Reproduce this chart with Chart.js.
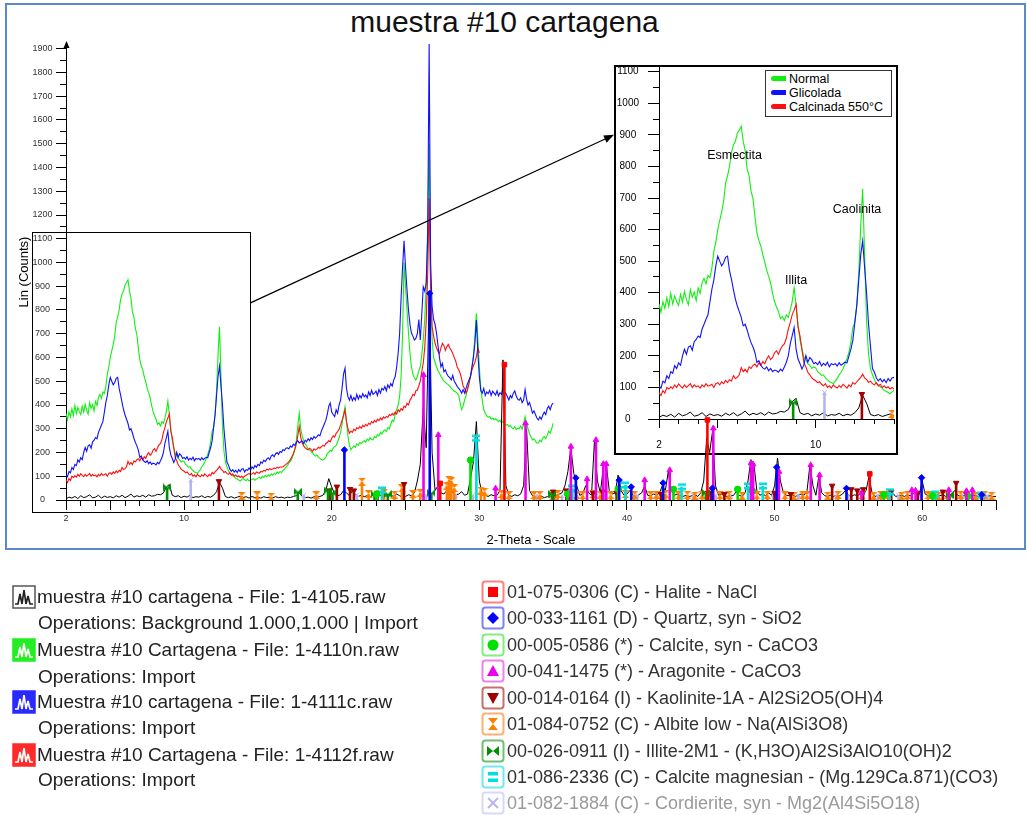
<!DOCTYPE html>
<html>
<head>
<meta charset="utf-8">
<title>muestra #10 cartagena</title>
<script src="https://cdn.jsdelivr.net/npm/chart.js@4.4.1/dist/chart.umd.min.js"></script>
<style>
html,body{margin:0;padding:0;background:#fff;}
body{position:relative;width:1027px;height:815px;overflow:hidden;font-family:"Liberation Sans",Arial,sans-serif;}
#frame{position:absolute;left:5px;top:3px;width:1017px;height:543px;border:2px solid #5b89c9;}
#title{position:absolute;left:0;top:4px;width:1009px;text-align:center;font-size:30px;line-height:36px;color:#111;}
#main{position:absolute;left:0;top:0;z-index:2;pointer-events:none;}
#insetBox{position:absolute;left:614px;top:65px;width:280px;height:386px;border:2px solid #000;background:#fff;z-index:1;}
#inset{display:block;}
#insetLegend{position:absolute;left:765px;top:70px;width:125px;height:45px;border:1px solid #333;background:#fff;z-index:3;font-size:12.5px;color:#000;}
#insetLegend .it{position:absolute;left:5px;height:14px;line-height:14px;white-space:nowrap;}
#insetLegend .sw{display:inline-block;width:15px;height:5px;border-radius:2.5px 0 0 2.5px;vertical-align:middle;margin-right:3px;position:relative;top:-1px;}
#legend{position:absolute;left:0;top:0;width:1027px;height:815px;filter:blur(0.6px);}
.row{position:absolute;height:26px;line-height:26px;white-space:nowrap;display:flex;align-items:center;}
.row svg{flex:none;}
.l{left:12px;font-size:19px;color:#222;}
.l span{margin-left:1px;}
.op{left:38px;font-size:19px;color:#222;}
.r{left:481px;font-size:18px;color:#333;}
.r span{margin-left:2px;}
.faint{color:#9a9a9a;}
</style>
</head>
<body>
<div id="frame"></div>
<div id="title">muestra #10 cartagena</div>
<div id="insetBox"><canvas id="inset" width="280" height="386"></canvas></div>
<div id="insetLegend">
  <div class="it" style="top:1px"><span class="sw" style="background:#10f010"></span>Normal</div>
  <div class="it" style="top:15px"><span class="sw" style="background:#1010ff"></span>Glicolada</div>
  <div class="it" style="top:29px"><span class="sw" style="background:#ff1010"></span>Calcinada 550°C</div>
</div>
<canvas id="main" width="1027" height="560"></canvas>

<div id="legend">
  <div class="row l" style="top:584px"><svg width="24" height="24" viewBox="0 0 24 24"><rect x="1" y="1" width="22" height="22" fill="#fff" stroke="#555" stroke-width="1.5"/><path d="M3 19 L6 19 L8 9 L10 19 L12 5 L14 19 L16 11 L18 19 L21 19" fill="none" stroke="#222" stroke-width="1.7"/></svg><span>muestra #10 cartagena - File: 1-4105.raw</span></div>
  <div class="row op" style="top:610px">Operations: Background 1.000,1.000 | Import</div>
  <div class="row l" style="top:637px"><svg width="24" height="24" viewBox="0 0 24 24"><rect x="1" y="1" width="22" height="22" fill="#22ee22" stroke="#22ee22" stroke-width="1.5"/><path d="M3 19 L6 19 L8 9 L10 19 L12 5 L14 19 L16 11 L18 19 L21 19" fill="none" stroke="#fff" stroke-width="1.7"/></svg><span>Muestra #10 Cartagena - File: 1-4110n.raw</span></div>
  <div class="row op" style="top:664px">Operations: Import</div>
  <div class="row l" style="top:689px"><svg width="24" height="24" viewBox="0 0 24 24"><rect x="1" y="1" width="22" height="22" fill="#2a2aff" stroke="#2a2aff" stroke-width="1.5"/><path d="M3 19 L6 19 L8 9 L10 19 L12 5 L14 19 L16 11 L18 19 L21 19" fill="none" stroke="#fff" stroke-width="1.7"/></svg><span>Muestra #10 cartagena - File: 1-4111c.raw</span></div>
  <div class="row op" style="top:715px">Operations: Import</div>
  <div class="row l" style="top:742px"><svg width="24" height="24" viewBox="0 0 24 24"><rect x="1" y="1" width="22" height="22" fill="#ff2a2a" stroke="#ff2a2a" stroke-width="1.5"/><path d="M3 19 L6 19 L8 9 L10 19 L12 5 L14 19 L16 11 L18 19 L21 19" fill="none" stroke="#fff" stroke-width="1.7"/></svg><span>Muestra #10 Cartagena - File: 1-4112f.raw</span></div>
  <div class="row op" style="top:767px">Operations: Import</div>

  <div class="row r" style="top:579px"><svg width="24" height="24" viewBox="0 0 24 24"><rect x="1.5" y="1.5" width="21" height="21" rx="3" fill="#fff" stroke="#ff8080" stroke-width="2"/><rect x="7" y="7" width="10" height="10" fill="#ff0000"/></svg><span>01-075-0306 (C) - Halite - NaCl</span></div>
  <div class="row r" style="top:605px"><svg width="24" height="24" viewBox="0 0 24 24"><rect x="1.5" y="1.5" width="21" height="21" rx="3" fill="#fff" stroke="#8080ff" stroke-width="2"/><polygon points="12,6 18,12 12,18 6,12" fill="#0000ff"/></svg><span>00-033-1161 (D) - Quartz, syn - SiO2</span></div>
  <div class="row r" style="top:632px"><svg width="24" height="24" viewBox="0 0 24 24"><rect x="1.5" y="1.5" width="21" height="21" rx="3" fill="#fff" stroke="#80ee80" stroke-width="2"/><circle cx="12" cy="12" r="5.5" fill="#00e000"/></svg><span>00-005-0586 (*) - Calcite, syn - CaCO3</span></div>
  <div class="row r" style="top:658px"><svg width="24" height="24" viewBox="0 0 24 24"><rect x="1.5" y="1.5" width="21" height="21" rx="3" fill="#fff" stroke="#f080f0" stroke-width="2"/><polygon points="12,6 18,17 6,17" fill="#ee00ee"/></svg><span>00-041-1475 (*) - Aragonite - CaCO3</span></div>
  <div class="row r" style="top:685px"><svg width="24" height="24" viewBox="0 0 24 24"><rect x="1.5" y="1.5" width="21" height="21" rx="3" fill="#fff" stroke="#c87070" stroke-width="2"/><polygon points="6,7 18,7 12,18" fill="#a00000"/></svg><span>00-014-0164 (I) - Kaolinite-1A - Al2Si2O5(OH)4</span></div>
  <div class="row r" style="top:711px"><svg width="24" height="24" viewBox="0 0 24 24"><rect x="1.5" y="1.5" width="21" height="21" rx="3" fill="#fff" stroke="#ffb070" stroke-width="2"/><polygon points="7,6 17,6 7,18 17,18" fill="#ff8000"/></svg><span>01-084-0752 (C) - Albite low - Na(AlSi3O8)</span></div>
  <div class="row r" style="top:738px"><svg width="24" height="24" viewBox="0 0 24 24"><rect x="1.5" y="1.5" width="21" height="21" rx="3" fill="#fff" stroke="#70c070" stroke-width="2"/><polygon points="6,7 6,17 18,7 18,17" fill="#009000"/></svg><span>00-026-0911 (I) - Illite-2M1 - (K,H3O)Al2Si3AlO10(OH)2</span></div>
  <div class="row r" style="top:764px"><svg width="24" height="24" viewBox="0 0 24 24"><rect x="1.5" y="1.5" width="21" height="21" rx="3" fill="#fff" stroke="#70eaea" stroke-width="2"/><rect x="7" y="7" width="10" height="3.5" fill="#00dede"/><rect x="7" y="13.5" width="10" height="3.5" fill="#00dede"/></svg><span>01-086-2336 (C) - Calcite magnesian - (Mg.129Ca.871)(CO3)</span></div>
  <div class="row r faint" style="top:790px"><svg width="24" height="24" viewBox="0 0 24 24"><rect x="1.5" y="1.5" width="21" height="21" rx="3" fill="#fff" stroke="#d8d8fa" stroke-width="2"/><path d="M7 7 L17 17 M17 7 L7 17" stroke="#b4b4f5" stroke-width="1.8"/></svg><span>01-082-1884 (C) - Cordierite, syn - Mg2(Al4Si5O18)</span></div>
</div>

<script>
// ---- Scan traces: counts every 0.1 deg 2-Theta, starting at 2.0 ----
const traceStart = 2.0;
const traceStep = 0.1;

const normalCounts = [
  365,338,372,350,384,356,398,364,390,372,
  360,395,370,404,378,362,410,386,402,375,
  415,398,432,445,428,455,448,478,530,560,
  600,628,655,690,748,770,800,845,868,880,
  905,915,927,880,850,792,770,722,698,640,
  590,565,548,520,498,470,452,430,398,372,
  355,340,318,325,312,330,322,345,372,416,
  360,298,250,222,195,188,175,170,160,165,
  162,150,145,138,140,130,125,118,116,112,
  120,128,140,148,160,175,192,212,245,290,
  306,360,464,610,729,520,310,205,160,140,
  125,112,108,102,98,90,88,84,80,86,
  91,85,82,88,80,84,86,90,83,88,
  92,96,90,100,95,104,98,106,100,110,
  104,112,108,118,112,120,116,126,130,138,
  145,155,162,175,190,215,250,310,366,300,
  270,250,235,228,215,211,205,198,190,185,
  190,180,175,170,168,172,180,195,200,210,
  205,218,225,230,245,262,285,320,360,393,
  330,270,230,211,220,228,222,236,230,242,
  238,245,250,243,256,250,262,255,253,268,
  262,275,270,285,278,290,296,288,305,300,
  318,337,330,360,380,400,435,520,700,1000,
  900,800,703,620,561,530,515,505,520,545,
  560,610,674,760,900,1150,1500,900,680,600,
  580,560,545,534,520,510,500,495,490,485,
  478,470,465,458,455,450,440,410,380,395,
  420,440,468,495,520,560,610,690,786,680,
  560,470,420,380,366,355,348,352,340,345,
  338,342,337,330,336,325,332,320,315,318,
  309,314,305,300,308,296,302,300,312,298,
  320,351,320,300,280,265,253,258,248,240,
  240,252,245,262,267,258,272,290,282,300,
  323
];

const glicoladaCounts = [
  105,98,120,115,137,128,150,145,169,160,
  178,170,200,221,205,228,232,218,245,252,
  263,258,285,300,316,330,370,411,440,485,
  516,500,485,495,512,516,470,442,410,380,
  358,340,322,295,300,282,260,242,228,210,
  179,185,170,162,158,165,153,160,150,155,
  153,148,158,152,165,179,200,238,263,290,
  221,190,175,158,172,201,180,195,188,175,
  179,172,182,168,176,170,180,165,175,172,
  175,168,178,170,175,180,178,200,221,250,
  306,360,440,520,564,480,400,300,230,160,
  148,130,121,128,118,125,115,128,120,130,
  132,118,128,125,135,126,140,132,145,138,
  150,145,160,155,168,162,172,178,170,185,
  190,182,195,200,192,205,200,212,208,218,
  220,215,228,222,235,230,242,250,240,245,
  248,238,252,245,258,250,262,255,267,260,
  267,275,270,290,305,320,335,360,395,408,
  370,360,351,380,365,400,420,470,530,555,
  470,435,420,440,418,432,420,445,425,440,
  430,448,435,442,430,455,440,462,445,450,
  458,440,465,450,470,463,478,460,485,472,
  490,480,505,520,560,618,700,850,980,1091,
  980,885,800,740,703,690,674,680,700,760,
  674,780,898,880,914,1100,1920,1000,814,760,
  740,703,650,600,561,575,540,548,530,520,
  515,505,525,500,490,478,470,462,450,465,
  450,470,490,505,520,560,600,660,758,620,
  520,460,450,470,440,455,448,462,440,458,
  450,442,460,438,452,445,470,455,448,435,
  421,440,430,450,460,438,425,420,430,410,
  421,465,425,400,410,390,366,375,360,345,
  337,350,340,358,370,360,385,395,380,400,
  408
];

const calcinadaCounts = [
  84,74,90,82,100,95,102,96,108,100,
  111,104,98,108,100,106,112,100,108,102,
  105,98,108,102,112,104,106,110,100,112,
  115,108,118,112,122,115,125,120,137,128,
  132,140,163,150,158,148,165,160,170,174,
  165,178,170,182,175,190,200,188,195,210,
  216,205,220,232,238,255,284,305,330,345,
  363,290,263,220,179,165,148,140,130,125,
  121,115,118,110,105,112,100,105,98,108,
  102,98,106,100,110,104,98,108,102,116,
  110,118,125,132,142,130,125,116,120,112,
  108,115,105,110,100,105,98,102,95,100,
  95,100,104,108,112,106,110,115,108,118,
  115,112,120,118,125,122,130,126,132,128,
  130,135,132,138,134,140,138,140,145,150,
  155,162,170,182,195,212,235,270,309,265,
  240,228,220,215,211,218,212,205,215,210,
  215,222,218,225,230,226,238,242,250,245,
  260,270,265,281,288,298,315,335,355,379,
  330,300,281,290,285,298,292,305,300,310,
  302,315,308,318,312,323,318,330,325,335,
  328,340,334,345,338,350,344,352,348,360,
  356,365,358,370,362,380,372,385,378,395,
  390,407,400,420,430,445,440,460,463,480,
  500,540,576,640,750,950,1270,900,730,690,
  660,640,625,617,640,660,650,630,646,655,
  640,630,617,600,585,560,548,534,510,480,
  470,450,465,490,520,548,565,580,604,640,
  620
];

// Background-subtracted scan, every 0.2 deg from 2.0 to 65.0
const backgroundStart = 2.0;
const backgroundStep = 0.2;
const backgroundCounts = [
  5,12,8,15,6, 18,10,14,22,9, 12,20,8,16,11, 14,9,18,12,20,
  10,16,25,12,18, 14,20,12,22,16, 18,24,22,30,55, 65,20,14,18,10,
  16,12,20,10,14, 12,18,10,15,12, 20,35,75,50,14, 10,14,8,12,16,
  10,14,8,15,10, 12,8,14,10,12, 9,14,10,12,8, 12,10,15,18,30,
  15,10,12,8,14, 12,15,20,40,90, 55,25,18,22,40, 30,18,40,25,15,
  20,14,18,12,22, 18,25,15,20,14, 20,15,25,18,12, 15,22,18,30,80,
  150,390,220,880,200, 40,60,30,25,40, 60,30,20,25,35, 20,25,90,160,330,
  80,25,20,15,22, 18,20,40,590,60, 20,15,22,18,25, 60,300,40,18,15,
  12,16,10,14,12, 20,18,25,30,60, 120,220,112,60,20, 25,60,30,20,250,
  80,30,140,150,40, 25,30,105,40,20, 25,40,20,15,22, 30,60,20,18,25,
  20,30,60,40,120, 40,20,25,18,15, 20,14,18,22,15, 30,80,260,200,290,
  60,20,25,18,15, 20,18,35,20,15, 30,80,170,150,40, 20,25,18,30,20,
  60,176,80,30,20, 18,22,15,20,25, 20,40,150,60,20, 100,30,18,15,20,
  15,20,18,25,40, 20,15,22,18,25, 20,40,100,30,15, 18,20,15,22,18,
  30,15,18,20,15, 22,18,25,40,20, 80,25,18,15,20, 15,18,22,15,20,
  25,40,20,15,18, 20,15,22,18,15, 18,20,15,18,14,
  15
];

// ---- Reference patterns (peak position in deg, stick height in counts) ----
const haliteAngles = [27.35, 31.70, 45.45, 56.45];
const haliteCounts = [70, 570, 337, 110];

const quartzAngles = [20.86, 26.64, 36.54, 39.47, 40.29, 42.45, 45.79, 50.14, 54.87, 59.96, 64.03];
const quartzCounts = [211, 870, 93, 84, 55, 72, 50, 138, 49, 94, 22];

const calciteAngles = [23.05, 29.40, 35.97, 39.40, 43.15, 47.50, 48.50, 57.40, 60.70, 63.10];
const calciteCounts = [25, 168, 25, 46, 45, 45, 38, 22, 18, 16];

const aragoniteAngles = [26.22, 27.22, 31.10, 33.13, 36.20, 37.30, 37.90, 38.40, 38.60, 41.20, 42.90, 45.85, 48.40, 48.55, 50.30, 52.45, 53.05, 55.90, 59.30, 59.55, 61.80, 63.00, 63.40];
const aragoniteCounts = [527, 274, 49, 323, 225, 88, 253, 152, 152, 84, 126, 302, 155, 150, 119, 147, 105, 30, 42, 40, 42, 38, 42];

const kaoliniteAngles = [12.36, 19.86, 20.35, 21.24, 21.50, 23.10, 24.90, 35.00, 35.90, 36.05, 37.70, 38.35, 39.30, 42.30, 45.50, 45.70, 46.60, 50.00, 51.10, 53.90, 55.20, 55.60, 56.00, 57.90, 59.70, 61.40, 62.30, 63.00];
const kaoliniteCounts = [79, 40, 56, 46, 40, 30, 67, 35, 40, 30, 30, 35, 30, 25, 30, 30, 25, 30, 25, 60, 45, 40, 45, 35, 30, 35, 72, 25];

const albiteAngles = [13.90, 14.95, 15.90, 18.95, 22.05, 22.50, 23.55, 24.25, 24.75, 25.50, 26.00, 27.80, 27.95, 28.10, 28.30, 30.10, 30.35, 31.50, 32.00, 33.70, 34.10, 35.00, 35.30, 36.60, 37.00, 37.70, 38.20, 38.90, 39.90, 40.50, 41.60, 42.00, 42.60, 43.50, 44.10, 44.60, 45.10, 46.30, 46.90, 47.80, 48.80, 49.50, 50.70, 51.30, 51.90, 52.20, 53.60, 54.30, 55.90, 56.70, 57.20, 57.70, 58.60, 59.00, 60.40, 61.10, 61.70, 62.60, 63.60, 64.20, 64.70];
const albiteCounts = [17, 19, 14, 20, 77, 25, 30, 22, 49, 25, 30, 60, 84, 80, 50, 40, 35, 25, 20, 20, 22, 18, 25, 22, 20, 25, 22, 20, 25, 22, 20, 22, 25, 20, 22, 18, 22, 20, 22, 18, 20, 22, 20, 18, 22, 20, 18, 22, 20, 18, 22, 20, 18, 22, 20, 18, 20, 22, 18, 20, 18];

const illiteAngles = [8.85, 17.70, 19.75, 20.05, 22.90, 23.80, 26.75, 34.95, 45.35, 61.85];
const illiteCounts = [53, 35, 40, 30, 25, 25, 30, 25, 30, 20];

const calcMgAngles = [23.40, 29.80, 36.30, 39.90, 43.70, 48.20, 49.20, 57.80, 60.90, 64.00];
const calcMgCounts = [42, 260, 49, 63, 56, 59, 59, 35, 25, 20];

const cordieriteAngles = [10.45, 18.10, 19.00, 21.70, 26.40, 28.40, 29.55, 33.90, 35.60, 38.50, 40.70, 42.00, 44.50, 46.00, 47.00, 49.90, 51.60, 54.20, 55.00, 57.00, 58.40, 59.90, 61.00, 62.70, 64.40];
const cordieriteCounts = [84, 20, 15, 22, 20, 20, 20, 20, 18, 22, 20, 22, 20, 20, 20, 22, 20, 22, 20, 20, 20, 20, 22, 20, 18];

// ---- Axis ticks ----
const mainAngleTicks = [2, 5, 10, 15, 20, 25, 30, 35, 40, 45, 50, 55, 60, 65];
const mainAngleLabels = [2, 10, 20, 30, 40, 50, 60];
const mainCountTicks = [0, 100, 200, 300, 400, 500, 600, 700, 800, 900, 1000, 1100, 1200, 1300, 1400, 1500, 1600, 1700, 1800, 1900];
const insetAngleTicks = [2, 5, 10];
const insetAngleLabels = [2, 10];
const insetCountTicks = [0, 100, 200, 300, 400, 500, 600, 700, 800, 900, 1000, 1100];

// Zoomed window (main chart) and the clay peak names in the inset
const zoomMaxAngle = 14.46;
const zoomMaxCount = 1130;
const arrowFromCount = 830;
const arrowToCount = 900;
const clayNames = ['Esmectita', 'Illita', 'Caolinita'];
const clayAngles = [5.86, 9.0, 12.11];
const clayCounts = [833, 440, 664];

Chart.defaults.font.family = "'Liberation Sans', Arial, sans-serif";

// Small marker glyphs not provided by Chart.js
function glyph(color, draw) {
  const c = document.createElement('canvas');
  c.width = 8; c.height = 8;
  const g = c.getContext('2d');
  g.fillStyle = color;
  draw(g, 8);
  return c;
}
const hourglass = glyph('#ff8000', (g, s) => { g.beginPath(); g.moveTo(0, 0); g.lineTo(s, 0); g.lineTo(0, s); g.lineTo(s, s); g.closePath(); g.fill(); });
const bowtie = glyph('#009000', (g, s) => { g.beginPath(); g.moveTo(0, 0); g.lineTo(0, s); g.lineTo(s, 0); g.lineTo(s, s); g.closePath(); g.fill(); });
const equalsSign = glyph('#00dede', (g, s) => { g.fillRect(0, 0.5, s, 2.6); g.fillRect(0, s - 3.1, s, 2.6); });

function traceSeries(label, values, start, step, color, width) {
  return {
    label,
    data: values.map((v, i) => ({ x: Math.round((start + i * step) * 100) / 100, y: v })),
    borderColor: color, backgroundColor: color, borderWidth: width,
    pointRadius: 0, fill: false, tension: 0
  };
}

function stickSeries(label, angles, counts, color, style, rot) {
  const pts = [];
  angles.forEach((a, i) => { pts.push({ x: a, y: 0 }, { x: a, y: counts[i] }, { x: a, y: null }); });
  return {
    label, data: pts,
    borderColor: color, backgroundColor: color, borderWidth: 2.6,
    spanGaps: false, tension: 0,
    pointStyle: style, pointRotation: rot || 0,
    pointBorderColor: color, pointBackgroundColor: color, pointBorderWidth: 1,
    pointRadius: c => (c.raw && c.raw.y > 0) ? 3.2 : 0
  };
}

function allSeries() {
  return [
    stickSeries('Halite', haliteAngles, haliteCounts, '#ff0000', 'rect'),
    stickSeries('Quartz', quartzAngles, quartzCounts, '#0000ff', 'rectRot'),
    stickSeries('Aragonite', aragoniteAngles, aragoniteCounts, '#ee00ee', 'triangle'),
    stickSeries('Calcite', calciteAngles, calciteCounts, '#00e000', 'circle'),
    stickSeries('Calcite magnesian', calcMgAngles, calcMgCounts, '#00dede', equalsSign),
    stickSeries('Illite', illiteAngles, illiteCounts, '#009000', bowtie),
    stickSeries('Kaolinite', kaoliniteAngles, kaoliniteCounts, '#a00000', 'triangle', 180),
    stickSeries('Albite', albiteAngles, albiteCounts, '#ff8000', hourglass),
    stickSeries('Cordierite', cordieriteAngles, cordieriteCounts, '#b4b4f5', 'crossRot'),
    traceSeries('muestra #10 cartagena', backgroundCounts, backgroundStart, backgroundStep, '#000000', 1),
    traceSeries('Glicolada', glicoladaCounts, traceStart, traceStep, '#1010ff', 1.1),
    traceSeries('Calcinada 550°C', calcinadaCounts, traceStart, traceStep, '#ff1010', 1.1),
    traceSeries('Normal', normalCounts, traceStart, traceStep, '#10f010', 1.1)
  ];
}

// Short ticks between the labelled ones
const minorTicks = {
  id: 'minorTicks',
  afterDraw(chart, args, opts) {
    const { ctx, chartArea: a, scales: { x, y } } = chart;
    const al = p => Math.round(p - 0.5) + 0.5;
    ctx.save();
    ctx.strokeStyle = '#000';
    ctx.lineWidth = 1;
    ctx.beginPath();
    const major = new Set(x.ticks.map(t => t.value));
    for (let v = Math.ceil(x.min); v <= x.max; v++) {
      if (major.has(v)) continue;
      const px = al(x.getPixelForValue(v));
      ctx.moveTo(px, a.bottom); ctx.lineTo(px, a.bottom + opts.xLen);
    }
    for (let v = 50; v <= y.max; v += 100) {
      const py = al(y.getPixelForValue(v));
      ctx.moveTo(a.left - opts.yLen, py); ctx.lineTo(a.left, py);
    }
    ctx.stroke();
    ctx.restore();
  }
};

// Inset chart (2-14 deg)
const insetChart = new Chart(document.getElementById('inset'), {
  type: 'line',
  data: { datasets: allSeries() },
  options: {
    responsive: false, animation: false, devicePixelRatio: 1,
    layout: { padding: { left: 0, right: 2, top: 0, bottom: 0 } },
    plugins: { legend: { display: false }, tooltip: { enabled: false }, minorTicks: { xLen: 5, yLen: 6 } },
    scales: {
      x: {
        type: 'linear', min: 2, max: 14,
        grid: { drawOnChartArea: false, tickLength: 9, color: '#000', tickColor: '#000' },
        border: { display: true, color: '#000', width: 1 },
        ticks: { autoSkip: false, maxRotation: 0, padding: 11, color: '#000', font: { size: 10 },
          callback: v => insetAngleLabels.includes(v) ? String(v) : '' },
        afterBuildTicks: s => { s.ticks = insetAngleTicks.map(v => ({ value: v })); },
        afterFit: s => { s.height = 34; s.paddingLeft = 0; s.paddingRight = 0; }
      },
      y: {
        min: 0, max: 1115,
        grid: { drawOnChartArea: false, tickLength: 11, color: '#000', tickColor: '#000' },
        border: { display: true, color: '#000', width: 1 },
        ticks: { crossAlign: 'center', padding: 9, color: '#000', font: { size: 10 }, callback: v => String(v) },
        afterBuildTicks: s => { s.ticks = insetCountTicks.map(v => ({ value: v })); },
        afterFit: s => { s.width = 43; s.paddingTop = 0; s.paddingBottom = 0; }
      }
    }
  },
  plugins: [minorTicks, {
    id: 'clayNames',
    afterDatasetsDraw(chart) {
      const { ctx, scales: { x, y } } = chart;
      ctx.save();
      ctx.font = "12.5px 'Liberation Sans', Arial, sans-serif";
      ctx.fillStyle = '#000';
      ctx.textAlign = 'center';
      ctx.textBaseline = 'middle';
      clayNames.forEach((n, i) => ctx.fillText(n, x.getPixelForValue(clayAngles[i]), y.getPixelForValue(clayCounts[i])));
      ctx.restore();
    }
  }]
});

// Main chart (2-65 deg)
new Chart(document.getElementById('main'), {
  type: 'line',
  data: { datasets: allSeries() },
  options: {
    responsive: false, animation: false, devicePixelRatio: 1,
    layout: { padding: { left: 8, right: 31, top: 44, bottom: 10 } },
    plugins: { legend: { display: false }, tooltip: { enabled: false }, minorTicks: { xLen: 6, yLen: 6 } },
    scales: {
      x: {
        type: 'linear', min: 2, max: 65,
        grid: { drawOnChartArea: false, tickLength: 10, color: '#000', tickColor: '#000' },
        border: { display: true, color: '#000', width: 1 },
        ticks: { autoSkip: false, maxRotation: 0, padding: 3.5, color: '#333', font: { size: 9 },
          callback: v => mainAngleLabels.includes(v) ? String(v) : '' },
        afterBuildTicks: s => { s.ticks = mainAngleTicks.map(v => ({ value: v })); },
        afterFit: s => { s.height = 50; s.paddingLeft = 0; s.paddingRight = 0; },
        title: { display: true, text: '2-Theta - Scale', color: '#000', font: { size: 13 }, padding: { top: 0, bottom: 2 } }
      },
      y: {
        min: 0, max: 1920,
        grid: { drawOnChartArea: false, tickLength: 10, color: '#000', tickColor: '#000' },
        border: { display: true, color: '#000', width: 1 },
        ticks: { crossAlign: 'center', padding: 3.5, color: '#333', font: { size: 9 }, callback: v => String(v) },
        afterBuildTicks: s => { s.ticks = mainCountTicks.map(v => ({ value: v })); },
        afterFit: s => { s.width = 58; s.paddingTop = 0; s.paddingBottom = 0; },
        title: { display: true, text: 'Lin (Counts)', color: '#000', font: { size: 13 }, padding: { top: 9, bottom: 0 } }
      }
    }
  },
  plugins: [minorTicks, {
    id: 'zoomFrame',
    afterDraw(chart) {
      const { ctx, chartArea: a, scales: { x, y } } = chart;
      ctx.save();
      // arrow head on the count axis
      ctx.fillStyle = '#000';
      ctx.beginPath();
      ctx.moveTo(a.left + 0.5, a.top - 3);
      ctx.lineTo(a.left - 2.5, a.top + 4);
      ctx.lineTo(a.left + 3.5, a.top + 4);
      ctx.closePath();
      ctx.fill();
      // window enlarged in the inset
      const right = Math.round(x.getPixelForValue(zoomMaxAngle)) + 0.5;
      const top = Math.round(y.getPixelForValue(zoomMaxCount)) + 0.5;
      const left = a.left - 33.5;
      const bottom = a.bottom + 12.5;
      ctx.strokeStyle = '#000';
      ctx.lineWidth = 1;
      ctx.strokeRect(left, top, right - left, bottom - top);
      // arrow to the inset
      const box = insetChart.canvas.getBoundingClientRect();
      const sx = right, sy = y.getPixelForValue(arrowFromCount);
      const ex = box.left - 2, ey = box.top + insetChart.scales.y.getPixelForValue(arrowToCount);
      const ang = Math.atan2(ey - sy, ex - sx);
      ctx.lineWidth = 1.2;
      ctx.beginPath();
      ctx.moveTo(sx, sy);
      ctx.lineTo(ex - 8 * Math.cos(ang), ey - 8 * Math.sin(ang));
      ctx.stroke();
      ctx.beginPath();
      ctx.moveTo(ex, ey);
      ctx.lineTo(ex - 10 * Math.cos(ang) + 4 * Math.sin(ang), ey - 10 * Math.sin(ang) - 4 * Math.cos(ang));
      ctx.lineTo(ex - 10 * Math.cos(ang) - 4 * Math.sin(ang), ey - 10 * Math.sin(ang) + 4 * Math.cos(ang));
      ctx.closePath();
      ctx.fill();
      ctx.restore();
    }
  }]
});
</script>
</body>
</html>
